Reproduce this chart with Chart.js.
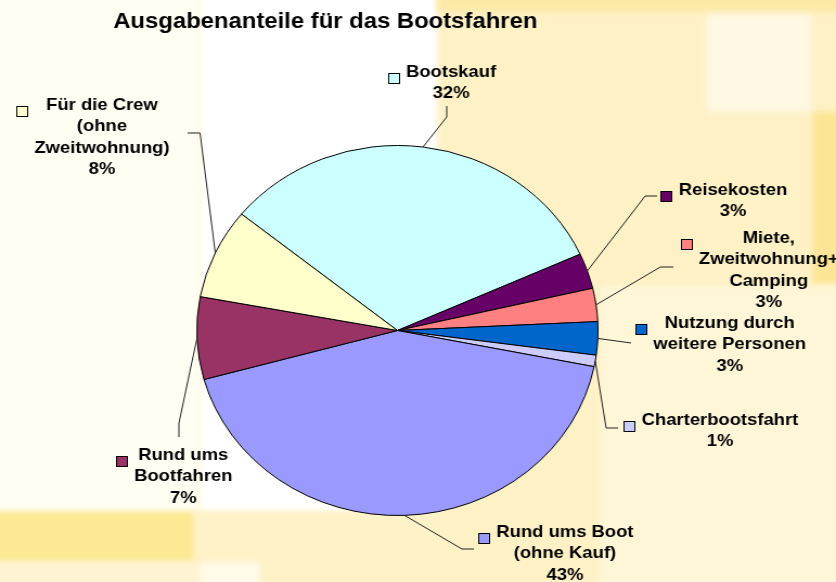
<!DOCTYPE html>
<html>
<head>
<meta charset="utf-8">
<script src="https://cdn.jsdelivr.net/npm/chart.js@4.4.1/dist/chart.umd.min.js"></script>
<style>
  html, body { margin: 0; padding: 0; }
  body { width: 836px; height: 582px; position: relative; overflow: hidden; background: #fef1c6; }
  .bg { position: absolute; filter: blur(3px); }
  #wrap { position: absolute; left: 0; top: 0; width: 771px; height: 582px; transform: scaleX(1.0843); transform-origin: 0 0; }
</style>
</head>
<body>
<!-- soft background blocks -->
<div class="bg" style="left:-10px;top:-10px;width:210px;height:522px;background:#fffef3"></div>
<div class="bg" style="left:200px;top:-10px;width:237px;height:522px;background:#ffffff"></div>
<div class="bg" style="left:437px;top:-10px;width:410px;height:22px;background:#fce9a6"></div>
<div class="bg" style="left:707px;top:14px;width:104px;height:98px;background:#fff8e4"></div>
<div class="bg" style="left:813px;top:112px;width:40px;height:172px;background:#fce594"></div>
<div class="bg" style="left:600px;top:286px;width:250px;height:300px;background:#fff6d8"></div>
<div class="bg" style="left:-10px;top:512px;width:205px;height:50px;background:#fce993"></div>
<div class="bg" style="left:195px;top:512px;width:242px;height:50px;background:#fef2c8"></div>
<div class="bg" style="left:-10px;top:562px;width:210px;height:30px;background:#fef3d2"></div>
<div class="bg" style="left:200px;top:562px;width:60px;height:30px;background:#fffaea"></div>

<div id="wrap"><canvas id="myChart" width="771" height="582"></canvas></div>

<script>
const chartTitle = "Ausgabenanteile für das Bootsfahren";

// slices, clockwise from the top-left edge of "Bootskauf"
const categories = [
  ["Bootskauf"],
  ["Reisekosten"],
  ["Miete,", "Zweitwohnung+", "Camping"],
  ["Nutzung durch", "weitere Personen"],
  ["Charterbootsfahrt"],
  ["Rund ums Boot", "(ohne Kauf)"],
  ["Rund ums", "Bootfahren"],
  ["Für die Crew", "(ohne", "Zweitwohnung)"],
];
const shares = [32.4, 3.1, 2.9, 2.9, 1.0, 42.6, 7.2, 7.9];
const sliceColors = [
  "#ccffff", "#660066", "#ff8080", "#0066cc",
  "#ccccff", "#9999ff", "#993366", "#ffffcc",
];

// where each label box sits (text centre x, first baseline) and how the leader bends
const labelLayout = [
  { x: 416, y: 77, elbow: [412, 117], end: [412, 106] },
  { x: 676, y: 195, elbow: [595, 196], end: [606, 196] },
  { x: 709, y: 243, elbow: [609, 267], end: [621, 267] },
  { x: 673, y: 328, elbow: [582, 343], end: [582, 343] },
  { x: 664, y: 425, elbow: [559, 428], end: [570, 428] },
  { x: 521, y: 537, elbow: [426, 549], end: [437, 549] },
  { x: 169, y: 460, elbow: [165, 423], end: [165, 437] },
  { x: 94, y: 110, elbow: [184.5, 133], end: [173, 133] },
];

const labelFont = 'bold 17px "Liberation Sans", Arial, sans-serif';
const lineStep = 21.3;

const pieLabels = {
  id: "pieLabels",
  afterDraw(chart) {
    const ctx = chart.ctx;
    const meta = chart.getDatasetMeta(0);
    const total = shares.reduce((sum, v) => sum + v, 0);

    ctx.save();
    ctx.fillStyle = "#000";
    ctx.textAlign = "center";
    ctx.textBaseline = "alphabetic";
    ctx.font = 'bold 22px "Liberation Sans", Arial, sans-serif';
    ctx.fillText(chartTitle, 300, 28);

    meta.data.forEach((arc, i) => {
      const p = arc.getProps(["x", "y", "startAngle", "endAngle", "outerRadius"], true);
      const mid = (p.startAngle + p.endAngle) / 2;
      const sx = p.x + Math.cos(mid) * p.outerRadius;
      const sy = p.y + Math.sin(mid) * p.outerRadius;
      const L = labelLayout[i];

      // leader line
      ctx.strokeStyle = "#222";
      ctx.lineWidth = 1;
      ctx.beginPath();
      ctx.moveTo(sx, sy);
      ctx.lineTo(L.elbow[0], L.elbow[1]);
      ctx.lineTo(L.end[0], L.end[1]);
      ctx.stroke();

      // text
      const lines = [...categories[i], Math.round((shares[i] / total) * 100) + "%"];
      ctx.font = labelFont;
      ctx.fillStyle = "#000";
      const w = Math.max(...lines.map((t) => ctx.measureText(t).width));
      lines.forEach((t, k) => ctx.fillText(t, L.x, L.y + k * lineStep));

      // legend key
      const mx = Math.round(L.x - w / 2 - 5.5 - 11);
      const my = Math.round(L.y - 4);
      ctx.fillStyle = sliceColors[i];
      ctx.fillRect(mx, my, 11, 11);
      ctx.strokeStyle = "#000";
      ctx.strokeRect(mx + 0.5, my + 0.5, 10, 10);
    });
    ctx.restore();
  },
};

const ctx = document.getElementById("myChart").getContext("2d");
const chart = new Chart(ctx, {
  type: "pie",
  data: {
    labels: categories,
    datasets: [
      {
        data: shares,
        backgroundColor: sliceColors,
        borderColor: "#000",
        borderWidth: 1,
        hoverOffset: 0,
      },
    ],
  },
  options: {
    responsive: false,
    animation: false,
    rotation: -51,
    layout: { padding: { left: 181, right: 219, top: 145, bottom: 66 } },
    plugins: {
      legend: { display: false },
      title: { display: false },
      tooltip: { enabled: false },
    },
  },
  plugins: [pieLabels],
});
</script>
</body>
</html>
